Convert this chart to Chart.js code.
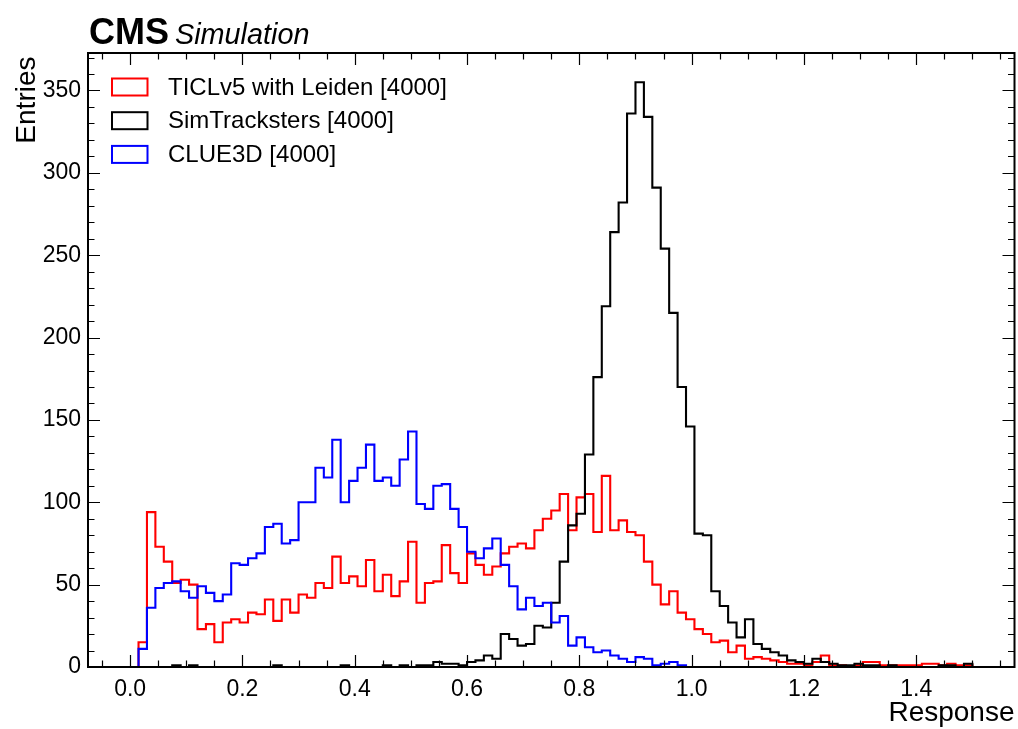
<!DOCTYPE html>
<html><head><meta charset="utf-8">
<script src="https://cdn.jsdelivr.net/npm/chart.js@4.4.1/dist/chart.umd.min.js"></script>
<style>html,body{margin:0;padding:0;background:#fff;}canvas{display:block;}</style>
</head><body>
<canvas id="c" width="1018" height="729"></canvas>
<script>
// ---- data (100 bins of width 0.015 from 0 to 1.5) ----
const binStart = 0.0;
const binWidth = 0.015;

const ticlv5Leiden = [
  0,15,94,73,64,51,53,50,23,26,
  15,27,29,27,33,32,41,28,41,33,
  44,42,51,48,67,51,55,49,65,46,
  56,43,52,76,39,51,52,74,57,51,
  69,62,56,61,69,73,75,72,83,90,
  95,105,83,103,105,82,116,83,89,82,
  80,64,50,38,46,33,29,23,20,15,
  16,9,13,5,6,5,4,3,2,2,
  1,3,7,1,1,0,1,3,3,1,
  1,1,1,1,2,2,1,2,1,1
];
const simTracksters = [
  0,0,0,0,0,1,0,1,0,0,
  0,0,0,0,0,0,0,1,0,0,
  0,0,0,0,0,1,0,0,0,0,
  1,0,1,0,1,1,3,2,2,1,
  3,4,7,5,20,17,13,14,25,24,
  39,64,86,93,129,176,219,264,282,336,
  355,334,291,254,215,170,146,81,80,46,
  37,27,18,29,14,11,9,7,4,3,
  2,5,3,2,1,1,2,1,1,0,
  1,0,0,0,0,0,1,1,0,2
];
const clue3d = [
  0,11,36,48,51,52,46,42,49,45,
  40,44,63,62,66,69,85,87,75,77,
  100,100,121,115,138,100,113,121,135,113,
  115,110,126,143,99,96,110,111,96,85,
  70,66,72,78,62,49,35,42,37,39,
  27,31,13,18,12,9,10,7,5,3,
  6,5,1,2,3,1,0,0,0,0,
  0,0,0,0,0,0,0,0,0,0,
  0,0,0,0,0,0,0,0,0,0,
  0,0,0,0,0,0,0,0,0,0
];
const seriesLabels = ['TICLv5 with Leiden [4000]', 'SimTracksters [4000]', 'CLUE3D [4000]'];
const seriesColors = ['#ff0000', '#000000', '#0000ff'];

const xTickValues = [0.0, 0.2, 0.4, 0.6, 0.8, 1.0, 1.2, 1.4];
const xTickLabels = ['0.0', '0.2', '0.4', '0.6', '0.8', '1.0', '1.2', '1.4'];
const yTickValues = [0, 50, 100, 150, 200, 250, 300, 350];
const yTickLabels = ['0', '50', '100', '150', '200', '250', '300', '350'];
const xMinorStep = 0.05;
const yMinorStep = 10;
const xRange = [-0.075, 1.575];
const yRange = [0, 372.75];

const xTitle = 'Response';
const yTitle = 'Entries';
const expLabel = 'CMS';
const expSub = 'Simulation';

const FONT = '"Liberation Sans", Arial, Helvetica, sans-serif';

function stepPoints(counts) {
  const pts = [{x: binStart, y: 0}];
  counts.forEach((c, i) => pts.push({x: binStart + i * binWidth, y: c}));
  const end = binStart + counts.length * binWidth;
  pts.push({x: end, y: counts[counts.length - 1]});
  pts.push({x: end, y: 0});
  return pts;
}

const allSeries = [ticlv5Leiden, simTracksters, clue3d];
const datasets = allSeries.map((s, i) => ({
  label: seriesLabels[i],
  data: stepPoints(s),
  borderColor: seriesColors[i],
  backgroundColor: 'transparent',
  borderWidth: 2.1,
  stepped: 'before',
  fill: false,
  pointRadius: 0,
  order: 2 - i
}));

const decor = {
  id: 'decor',
  afterDraw(chart) {
    const ctx = chart.ctx;
    const a = chart.chartArea;
    const xs = chart.scales.x, ys = chart.scales.y;
    ctx.save();
    ctx.strokeStyle = '#000';
    ctx.lineWidth = 1.2;
    const majL = 12, minL = 6.5;
    function xt(v, L) {
      const p = Math.round(xs.getPixelForValue(v)) + 0.5;
      if (p < a.left + 1 || p > a.right - 1) return;
      ctx.beginPath();
      ctx.moveTo(p, a.bottom); ctx.lineTo(p, a.bottom - L);
      ctx.moveTo(p, a.top); ctx.lineTo(p, a.top + L);
      ctx.stroke();
    }
    function yt(v, L) {
      const p = Math.round(ys.getPixelForValue(v)) + 0.5;
      if (p < a.top + 1 || p > a.bottom - 1) return;
      ctx.beginPath();
      ctx.moveTo(a.left, p); ctx.lineTo(a.left + L, p);
      ctx.moveTo(a.right, p); ctx.lineTo(a.right - L, p);
      ctx.stroke();
    }
    for (let k = Math.ceil(xRange[0] / xMinorStep); k * xMinorStep <= xRange[1]; k++) {
      const v = k * xMinorStep;
      const isMaj = xTickValues.some(t => Math.abs(t - v) < 1e-6);
      xt(v, isMaj ? majL : minL);
    }
    for (let k = 0; k * yMinorStep <= yRange[1]; k++) {
      const v = k * yMinorStep;
      const isMaj = yTickValues.some(t => Math.abs(t - v) < 1e-6);
      yt(v, isMaj ? majL : minL);
    }
    ctx.lineWidth = 2;
    ctx.strokeRect(a.left, a.top, a.right - a.left, a.bottom - a.top);

    // legend
    ctx.lineWidth = 2;
    ctx.font = '24px ' + FONT;
    ctx.textBaseline = 'middle';
    ctx.textAlign = 'left';
    chart.data.datasets.forEach((d, i) => {
      const cy = 87 + i * 33.7;
      ctx.strokeStyle = d.borderColor;
      ctx.strokeRect(112, cy - 8.5, 35.5, 17);
      ctx.fillStyle = '#000';
      ctx.fillText(d.label, 168, cy + 1);
    });

    // CMS label
    ctx.textBaseline = 'alphabetic';
    ctx.fillStyle = '#000';
    ctx.font = 'bold 36px ' + FONT;
    ctx.fillText(expLabel, 89, 43.5);
    const w = ctx.measureText(expLabel).width;
    ctx.font = 'italic 28.8px ' + FONT;
    ctx.fillText(expSub, 89 + w + 6, 43.5);

    // axis titles
    ctx.font = '28px ' + FONT;
    ctx.textAlign = 'right';
    ctx.fillText(xTitle, a.right, 721);
    ctx.save();
    ctx.translate(35, a.top + 3.5);
    ctx.rotate(-Math.PI / 2);
    ctx.textAlign = 'right';
    ctx.fillText(yTitle, 0, 0);
    ctx.restore();
    ctx.restore();
  }
};

new Chart(document.getElementById('c'), {
  type: 'line',
  data: {datasets},
  options: {
    responsive: false,
    animation: false,
    devicePixelRatio: 1,
    layout: {padding: {left: 0, top: 53, right: 3.5, bottom: 0}},
    plugins: {legend: {display: false}, tooltip: {enabled: false}},
    elements: {line: {tension: 0}, point: {radius: 0}},
    scales: {
      x: {
        type: 'linear', min: xRange[0], max: xRange[1],
        afterFit(s) { s.height = 62; },
        afterBuildTicks(s) { s.ticks = xTickValues.map(v => ({value: v})); },
        grid: {display: false, drawTicks: false},
        border: {display: false},
        ticks: {
          color: '#000', font: {family: FONT, size: 23}, padding: 9,
          maxRotation: 0, autoSkip: false,
          callback: (v, i) => xTickLabels[i]
        }
      },
      y: {
        type: 'linear', min: yRange[0], max: yRange[1],
        afterFit(s) { s.width = 88; },
        afterBuildTicks(s) { s.ticks = yTickValues.map(v => ({value: v})); },
        grid: {display: false, drawTicks: false},
        border: {display: false},
        ticks: {
          color: '#000', font: {family: FONT, size: 23}, padding: 7,
          autoSkip: false,
          callback: (v, i) => yTickLabels[i]
        }
      }
    }
  },
  plugins: [decor]
});
</script>
</body></html>
